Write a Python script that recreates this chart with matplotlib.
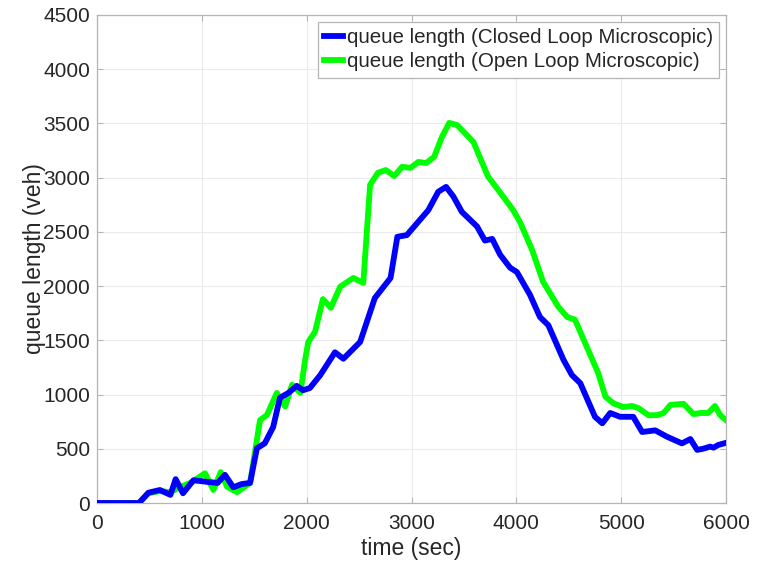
import matplotlib
matplotlib.use("Agg")
import matplotlib.pyplot as plt

# closed loop microscopic (blue)
t_closed = [0, 400, 490, 600, 700, 750, 820, 920, 1050, 1150, 1220, 1300, 1380, 1460,
            1525, 1600, 1680, 1745, 1825, 1905, 1965, 2030, 2130, 2270, 2350, 2510,
            2650, 2800, 2865, 2955, 3160, 3255, 3330, 3400, 3480, 3625, 3700, 3770,
            3845, 3940, 4005, 4130, 4225, 4305, 4450, 4530, 4610, 4750, 4820, 4895,
            4990, 5115, 5200, 5325, 5440, 5580, 5660, 5725, 5780, 5850, 5880, 5925, 6000]
q_closed = [0, 0, 95, 120, 75, 220, 90, 210, 195, 185, 260, 145, 175, 185,
            505, 550, 700, 970, 1015, 1080, 1040, 1060, 1180, 1390, 1330, 1485,
            1890, 2075, 2455, 2470, 2700, 2870, 2915, 2825, 2685, 2550, 2420, 2435,
            2290, 2170, 2130, 1920, 1715, 1640, 1320, 1180, 1105, 795, 735, 830,
            795, 795, 655, 670, 610, 550, 590, 490, 500, 520, 510, 535, 555]

# open loop microscopic (green)
t_open = [0, 400, 490, 600, 700, 800, 900, 1030, 1110, 1180, 1240, 1335, 1460,
          1555, 1620, 1715, 1795, 1860, 1940, 1985, 2015, 2080, 2155, 2230, 2320,
          2445, 2540, 2605, 2680, 2755, 2835, 2910, 2990, 3065, 3140, 3215, 3290,
          3360, 3435, 3510, 3590, 3730, 3875, 3970, 4035, 4150, 4255, 4400, 4485,
          4560, 4685, 4780, 4850, 4925, 5020, 5105, 5165, 5260, 5345, 5405, 5470,
          5595, 5690, 5755, 5830, 5895, 5945, 6000]
q_open = [0, 0, 90, 110, 100, 150, 190, 275, 120, 285, 150, 100, 185,
          765, 810, 1015, 890, 1090, 1015, 1320, 1485, 1580, 1880, 1800, 1995,
          2075, 2030, 2935, 3045, 3070, 3015, 3100, 3090, 3145, 3135, 3190, 3375,
          3505, 3485, 3410, 3330, 3010, 2825, 2700, 2590, 2335, 2040, 1810, 1715,
          1690, 1410, 1200, 980, 920, 885, 895, 875, 810, 810, 830, 905,
          915, 820, 830, 830, 895, 810, 765]

plt.rcParams['font.family'] = ['Liberation Sans', 'DejaVu Sans']

fig = plt.figure(figsize=(7.61, 5.65), dpi=100)
ax = fig.add_axes([0.1275, 0.1097, 0.8265, 0.8638])

ax.plot(t_closed, q_closed, color='#0000ff', lw=4.2, label='queue length (Closed Loop Microscopic)', zorder=3)
ax.plot(t_open, q_open, color='#00ff00', lw=4.2, label='queue length (Open Loop Microscopic)', zorder=2)

ax.set_xlim(0, 6000)
ax.set_ylim(0, 4500)
ax.set_xticks(range(0, 6001, 1000))
ax.set_yticks(range(0, 4501, 500))
ax.grid(True, color='#ebebeb', lw=0.8)
ax.set_axisbelow(True)
ax.tick_params(direction='in', labelsize=15, length=4, top=True, right=True,
               color='#b5b5b5', labelcolor='#262626')
ax.tick_params(axis='x', pad=8)
ax.tick_params(axis='y', pad=5)
for s in ax.spines.values():
    s.set_color('#b5b5b5')
    s.set_linewidth(0.9)

ax.set_xlabel('time (sec)', fontsize=16.5, color='#262626', labelpad=3)
ax.set_ylabel('queue length (veh)', fontsize=16.5, color='#262626', labelpad=-2)

leg = ax.legend(loc='upper right', fontsize=14.8, handlelength=0.95, handletextpad=0.15,
                borderpad=0.3, labelspacing=0.25, fancybox=False, framealpha=1,
                borderaxespad=0.35)
leg.get_frame().set_edgecolor('#b5b5b5')
leg.get_frame().set_linewidth(0.9)
for txt in leg.get_texts():
    txt.set_color('#262626')

fig.savefig('out.png', dpi=100)
